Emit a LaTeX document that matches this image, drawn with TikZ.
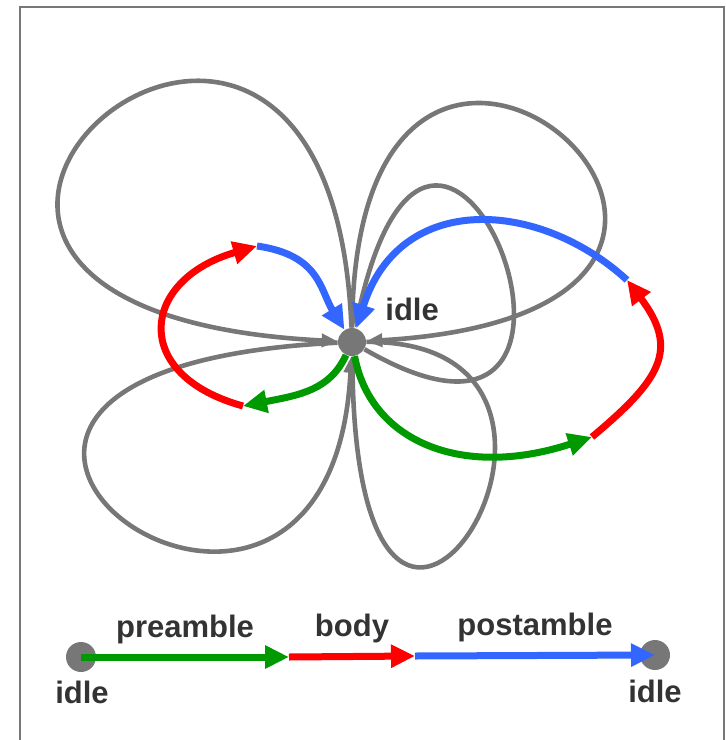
\documentclass[tikz,border=0pt]{standalone}
\usepackage{fontspec}
\setsansfont{Liberation Sans}
\usetikzlibrary{arrows.meta,positioning,calc}
\definecolor{LoopGray}{HTML}{777777}
\definecolor{TextGray}{HTML}{333333}
\definecolor{PreGreen}{HTML}{009900}
\definecolor{BodyRed}{HTML}{FF0000}
\definecolor{PostBlue}{HTML}{3366FF}

\begin{document}
\begin{tikzpicture}[
    x=0.5pt, y=-0.5pt,
    font=\sffamily\bfseries,
    state/.style={circle, fill=LoopGray, minimum size=14pt, inner sep=0pt},
    lbl/.style={text=TextGray, inner sep=1pt, font=\sffamily\bfseries\fontsize{15.5}{17}\selectfont},
    loopline/.style={draw=LoopGray, line width=2.3pt, -{Triangle[length=8pt,width=6.5pt]}},
    phase/.style={line width=3.5pt, -{Triangle[length=12pt,width=11pt]}},
    pre/.style={phase, draw=PreGreen, PreGreen},
    bod/.style={phase, draw=BodyRed, BodyRed},
    post/.style={phase, draw=PostBlue, PostBlue}
]

  % Rahmen und Bildgrenzen
  \useasboundingbox (0,0) rectangle (725,740);
  \draw[LoopGray, line width=1pt] (20,760) -- (20,7) -- (724,7) -- (724,760);

  % =========================================================================
  % ZUSTAND IDLE MIT SCHLEIFEN
  % =========================================================================
  \node[state] (idle) at (352,342) {};
  \node[lbl, anchor=west] (idleLbl) at (383,309) {idle};

  % Schleifen (Bluetenblaetter)
  \draw[loopline] (idle) .. controls (330,-220) and (-280,310) .. (idle);
  \draw[loopline] (idle) .. controls (355,-170) and (900,310) .. (idle);
  \draw[loopline] (idle) .. controls (660,520) and (440,-60) .. (idle);
  \draw[loopline] (idle) .. controls (-230,370) and (330,780) .. (idle);
  \draw[loopline] (idle) .. controls (660,340) and (360,830) .. (idle);

  % Zyklus links
  \coordinate (l1) at (243,406);
  \coordinate (l2) at (257,246);
  \draw[pre]  (idle) .. controls (330,390) and (300,395) .. (l1);
  \draw[bod]  (l1) .. controls (130,375) and (140,280) .. (l2);
  \draw[post] (l2) .. controls (320,255) and (320,290) .. (idle);

  % Zyklus rechts
  \coordinate (r1) at (592,437);
  \coordinate (r2) at (627,280);
  \draw[pre]  (idle) .. controls (370,440) and (460,480) .. (r1);
  \draw[bod]  (r1) .. controls (660,380) and (680,350) .. (r2);
  \draw[post] (r2) .. controls (540,200) and (400,190) .. (idle);

  % =========================================================================
  % LINEARER ABLAUF UNTEN
  % =========================================================================
  \node[state, minimum size=15pt] (idleA) at (81,657) {};
  \node[state, minimum size=15pt] (idleB) at (655,655) {};
  \node[lbl] at (82,692) {idle};
  \node[lbl] at (655,691) {idle};

  \coordinate (s1) at (289,657);
  \coordinate (s2) at (415,656);
  \draw[pre]  (idleA.center) -- node[lbl, above=4pt] {preamble} (s1);
  \draw[bod]  (s1) -- node[lbl, above=4pt] {body} (s2);
  \draw[post] (s2) -- node[lbl, above=4pt] {postamble} (idleB.center);

\end{tikzpicture}
\end{document}
